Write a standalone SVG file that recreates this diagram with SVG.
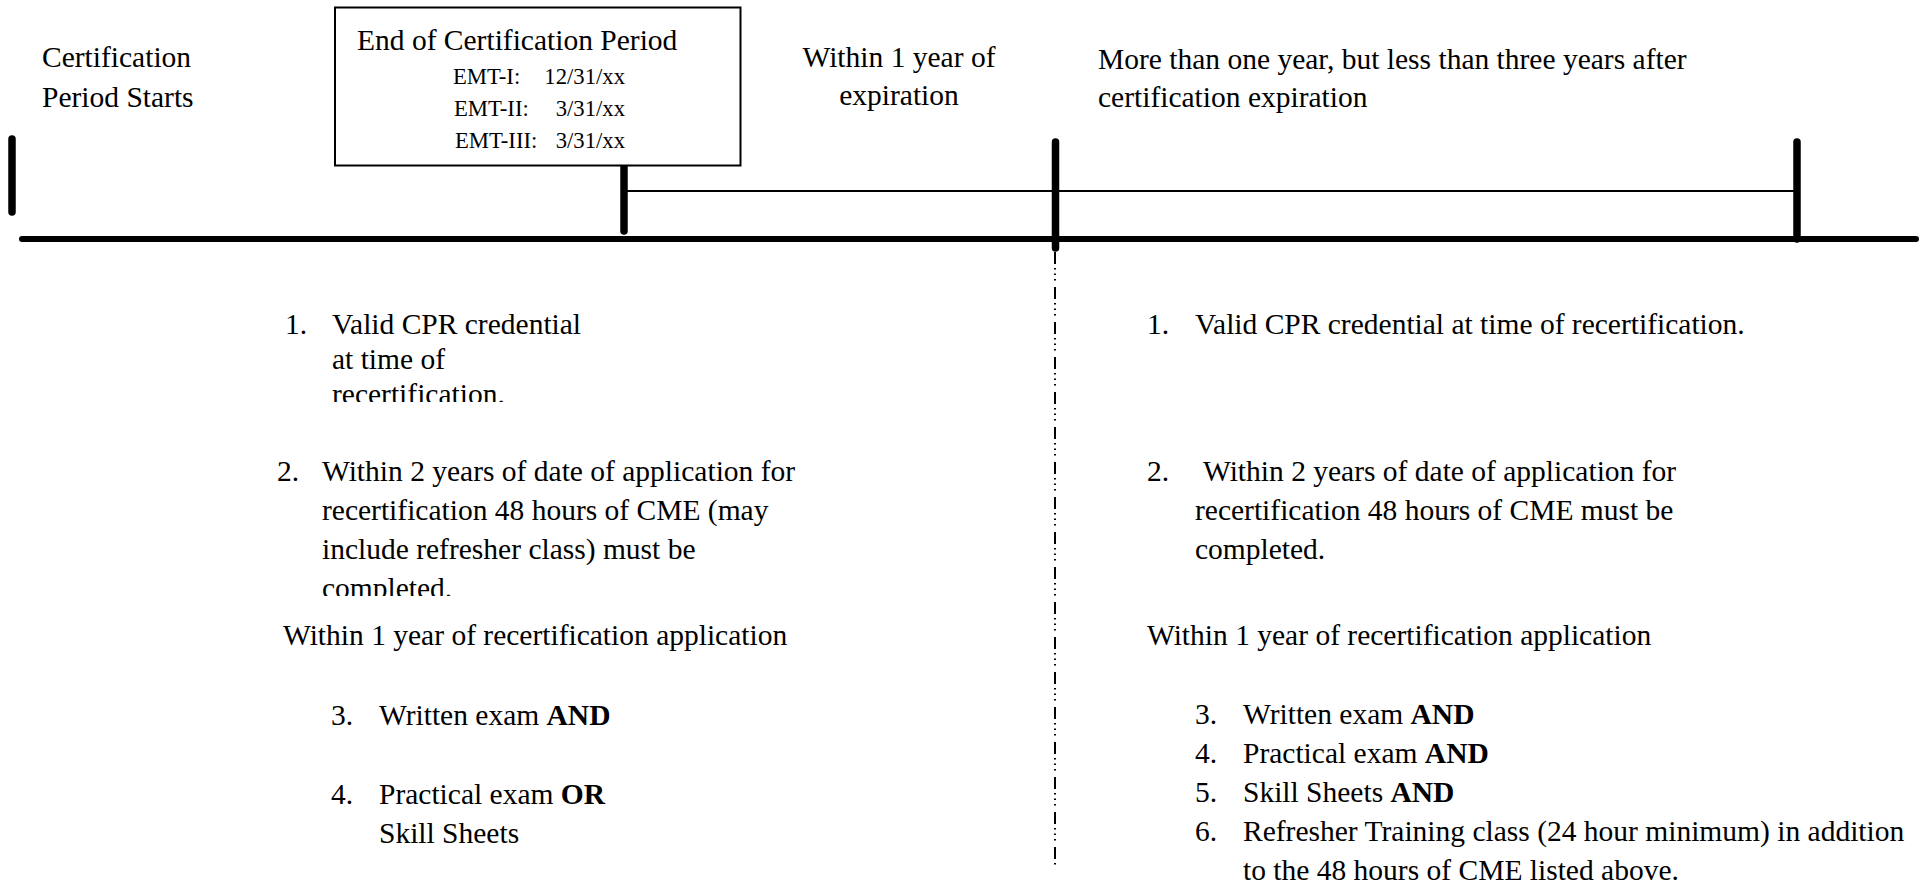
<svg xmlns="http://www.w3.org/2000/svg" width="1926" height="884" viewBox="0 0 1926 884">
<style>
text{font-family:"Liberation Serif","Times New Roman",serif;font-size:29.5px;fill:#000}
.sm{font-size:22.7px}
.b{font-weight:bold}
.tick{stroke:#000;stroke-width:7.5;stroke-linecap:round;fill:none}
.main{stroke:#000;stroke-width:6;stroke-linecap:round;fill:none}
.thin{stroke:#000;stroke-width:2;fill:none}
.dd{stroke:#000;stroke-width:2;fill:none;stroke-dasharray:12 4 1.5 4 1.5 4 1.5 6.5}
</style>
<defs>
<clipPath id="c1"><rect x="270" y="300" width="400" height="102"/></clipPath>
<clipPath id="c2"><rect x="260" y="440" width="600" height="156"/></clipPath>
</defs>
<rect width="1926" height="884" fill="#fff"/>
<g id="connectors">
<line class="main" x1="22" y1="239" x2="1916" y2="239"/>
<line class="thin" x1="624" y1="191" x2="1797" y2="191"/>
<line class="tick" x1="12" y1="139" x2="12" y2="212"/>
<line class="tick" x1="624" y1="167" x2="624" y2="231"/>
<line class="tick" x1="1055.5" y1="142" x2="1055.5" y2="248"/>
<line class="tick" x1="1797" y1="142" x2="1797" y2="239"/>
<line class="dd" x1="1055" y1="252" x2="1055" y2="866"/>
</g>
<g id="start-label">
<text x="42" y="67">Certification</text>
<text x="42" y="107">Period Starts</text>
</g>
<g id="end-box">
<rect x="335" y="7.5" width="405.5" height="158" fill="#fff" stroke="#000" stroke-width="2"/>
<text x="357" y="50">End of Certification Period</text>
<text class="sm" x="453" y="84">EMT-I:</text><text class="sm" x="625" y="84" text-anchor="end">12/31/xx</text>
<text class="sm" x="454" y="116">EMT-II:</text><text class="sm" x="625" y="116" text-anchor="end">3/31/xx</text>
<text class="sm" x="455" y="148">EMT-III:</text><text class="sm" x="625" y="148" text-anchor="end">3/31/xx</text>
</g>
<g id="within-label">
<text x="899" y="67" text-anchor="middle">Within 1 year of</text>
<text x="899" y="105" text-anchor="middle">expiration</text>
</g>
<g id="more-label">
<text x="1098" y="69">More than one year, but less than three years after</text>
<text x="1098" y="107">certification expiration</text>
</g>
<g id="left-column">
<g clip-path="url(#c1)">
<text x="285" y="334">1.</text>
<text x="332" y="334">Valid CPR credential</text>
<text x="332" y="369">at time of</text>
<text x="332" y="404">recertification.</text>
</g>
<g clip-path="url(#c2)">
<text x="277" y="481">2.</text>
<text x="322" y="481">Within 2 years of date of application for</text>
<text x="322" y="520">recertification 48 hours of CME (may</text>
<text x="322" y="559">include refresher class) must be</text>
<text x="322" y="598">completed.</text>
</g>
<text x="283" y="645">Within 1 year of recertification application</text>
<text x="331" y="725">3.</text>
<text x="379" y="725">Written exam <tspan class="b">AND</tspan></text>
<text x="331" y="804">4.</text>
<text x="379" y="804">Practical exam <tspan class="b">OR</tspan></text>
<text x="379" y="843">Skill Sheets</text>
</g>
<g id="right-column">
<text x="1147" y="334">1.</text>
<text x="1195" y="334">Valid CPR credential at time of recertification.</text>
<text x="1147" y="481">2.</text>
<text x="1203" y="481">Within 2 years of date of application for</text>
<text x="1195" y="520">recertification 48 hours of CME must be</text>
<text x="1195" y="559">completed.</text>
<text x="1147" y="645">Within 1 year of recertification application</text>
<text x="1195" y="724">3.</text>
<text x="1243" y="724">Written exam <tspan class="b">AND</tspan></text>
<text x="1195" y="763">4.</text>
<text x="1243" y="763">Practical exam <tspan class="b">AND</tspan></text>
<text x="1195" y="802">5.</text>
<text x="1243" y="802">Skill Sheets <tspan class="b">AND</tspan></text>
<text x="1195" y="841">6.</text>
<text x="1243" y="841">Refresher Training class (24 hour minimum) in addition</text>
<text x="1243" y="880">to the 48 hours of CME listed above.</text>
</g>
</svg>
